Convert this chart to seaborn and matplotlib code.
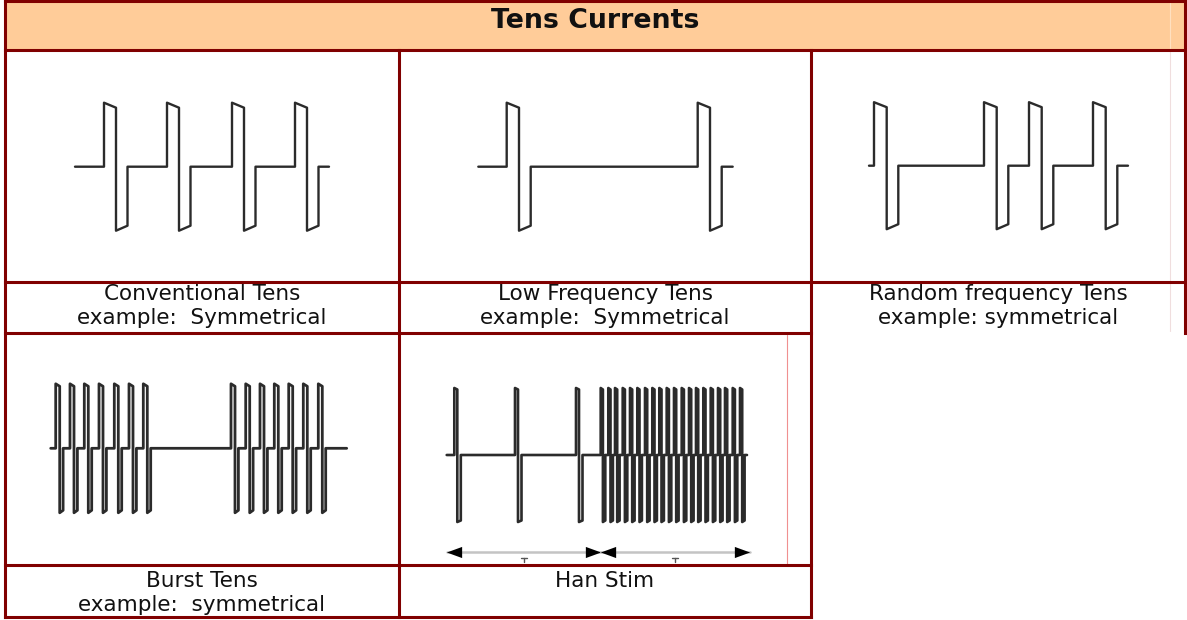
import numpy as np
import pandas as pd
import matplotlib.pyplot as plt
import seaborn as sns

# -------------------------
# Data
# (time in arbitrary units, measured from the start of each trace)
# -------------------------

conv_onsets = [29, 92, 157, 220]
conv_end = 254

low_onsets = [28.4, 219.4]
low_end = 254.4

rand_onsets = [5, 115, 160, 224]
rand_end = 259

burst_onsets = [5, 19.3, 33.6, 48.3, 63.6, 78.3, 92.6,
                180.3, 195, 209.3, 223.6, 238, 252.6, 267.6]
burst_end = 296

han_low_onsets = [7.6, 68.3, 129.3]
han_high_onsets = [154, 161.6, 168.3, 176, 183.3, 190.6, 198.3, 205.6, 212.6, 220,
                   227.3, 235, 242.3, 249.3, 256.6, 264, 271.3, 278.3, 286, 293.3]
han_end = 300.3
han_phases = [0, 154, 303]

title = "Tens Currents"
captions = [
    ("Conventional Tens", "example:  Symmetrical"),
    ("Low Frequency Tens", "example:  Symmetrical"),
    ("Random frequency Tens", "example: symmetrical"),
    ("Burst Tens", "example:  symmetrical"),
    ("Han Stim", ""),
]

# -------------------------
# Layout (pixels of the 1187x620 canvas)
# -------------------------

W, H = 1187, 620
BORDER = "#800000"
HEADER_FILL = "#FFCC99"
WAVE = "#2b2b2b"
TEXT = "#111111"


def pulse_train(onsets, t_end, w_pos, w_neg, amp, droop):
    w_pos = np.broadcast_to(w_pos, len(onsets))
    w_neg = np.broadcast_to(w_neg, len(onsets))
    t, v = [0.0], [0.0]
    for t0, wp, wn in zip(onsets, w_pos, w_neg):
        t += [t0, t0, t0 + wp, t0 + wp, t0 + wp + wn, t0 + wp + wn]
        v += [0, amp, amp - droop, -amp, -amp + droop, 0]
    t.append(t_end)
    v.append(0)
    return pd.DataFrame({"t": t, "v": v})


def cell_axes(fig, box, start_x, base_y):
    x0, y0, x1, y1 = box
    ax = fig.add_axes([x0 / W, 1 - y1 / H, (x1 - x0) / W, (y1 - y0) / H], zorder=3)
    ax.set_xlim(x0 - start_x, x1 - start_x)
    ax.set_ylim(-(y1 - base_y), base_y - y0)
    ax.axis("off")
    ax.patch.set_visible(False)
    return ax


def draw_wave(ax, df, lw=1.7):
    sns.lineplot(data=df, x="t", y="v", sort=False, estimator=None,
                 color=WAVE, lw=lw, ax=ax, legend=False)
    ax.set_xlabel("")
    ax.set_ylabel("")


sns.set_theme(style="white")
plt.rcParams["font.family"] = ["DejaVu Sans"]

fig = plt.figure(figsize=(W / 100, H / 100), dpi=100)
ax0 = fig.add_axes([0, 0, 1, 1])
ax0.set_xlim(0, W)
ax0.set_ylim(H, 0)
ax0.axis("off")

# header band
ax0.add_patch(plt.Rectangle((5, 1), 1180, 49, color=HEADER_FILL, lw=0))

# faint image-edge lines
ax0.plot([1170, 1170], [2, 49], color="#ffe0c0", lw=0.8)
ax0.plot([1170, 1170], [52, 331], color="#f0dede", lw=0.8)
ax0.plot([787, 787], [335, 564], color="#f09090", lw=0.8)

# table borders
lines = [
    ((5, 1185), (1, 1)),
    ((5, 1185), (50, 50)),
    ((5, 1185), (281.5, 281.5)),
    ((5, 811), (333, 333)),
    ((5, 811), (565, 565)),
    ((5, 811), (617, 617)),
    ((5, 5), (1, 617)),
    ((399, 399), (50, 617)),
    ((811, 811), (50, 617)),
    ((1185, 1185), (1, 333)),
]
for xs, ys in lines:
    ax0.plot(xs, ys, color=BORDER, lw=2.2, solid_capstyle="projecting")

ax0.text(595.5, 28.3, title, ha="center", va="baseline",
         fontsize=19.3, fontweight="bold", color=TEXT)

cap_pos = [
    (202, 300, 323.5),
    (605, 300, 323.5),
    (998, 300, 323.5),
    (202, 587, 611),
    (605, 587, 611),
]
for (l1, l2), (cx, b1, b2) in zip(captions, cap_pos):
    ax0.text(cx, b1, l1, ha="center", va="baseline", fontsize=15.5, color=TEXT)
    if l2:
        ax0.text(cx, b2, l2, ha="center", va="baseline", fontsize=15.5, color=TEXT)

# -------------------------
# Waveforms
# -------------------------

ax = cell_axes(fig, (5, 50, 399, 281.5), 75, 166.7)
draw_wave(ax, pulse_train(conv_onsets, conv_end, 12, 11.5, 64, 5))

ax = cell_axes(fig, (399, 50, 811, 281.5), 478.3, 166.7)
draw_wave(ax, pulse_train(low_onsets, low_end, 12.3, 11.7, 64, 5))

ax = cell_axes(fig, (811, 50, 1185, 281.5), 869, 165.7)
draw_wave(ax, pulse_train(rand_onsets, rand_end, 12.7, 11.6, 63.5, 5))

ax = cell_axes(fig, (5, 333, 399, 565), 50.7, 448.3)
draw_wave(ax, pulse_train(burst_onsets, burst_end, 4.0, 3.4, 64.5, 2.5), lw=2.0)

ax = cell_axes(fig, (399, 333, 811, 565), 446.7, 455)
han_onsets = han_low_onsets + han_high_onsets
han_wp = [3.0] * len(han_low_onsets) + [2.2] * len(han_high_onsets)
han_wn = [3.5] * len(han_low_onsets) + [2.4] * len(han_high_onsets)
draw_wave(ax, pulse_train(han_onsets, han_end, han_wp, han_wn, 67, 1.5), lw=1.9)

# Han Stim phase arrows
arrow_y = -97.3
head_l = [(1, 0), (-1, 0.73), (-1, -0.73)]
head_r = [(-1, 0), (1, 0.73), (1, -0.73)]
for a, b in zip(han_phases[:-1], han_phases[1:]):
    ax.plot([a, b], [arrow_y, arrow_y], color="#c4c4c4", lw=1.8)
    ax.plot([a + 7.5], [arrow_y], marker=head_r, ms=11, color="black", mew=0)
    ax.plot([b - 7.5], [arrow_y], marker=head_l, ms=11, color="black", mew=0)
    mid = (a + b) / 2
    ax.plot([mid - 3, mid + 3], [arrow_y - 5.4, arrow_y - 5.4], color="#555555", lw=1)
    ax.plot([mid, mid], [arrow_y - 5.4, arrow_y - 9.4], color="#555555", lw=1)

fig.savefig("out.png", dpi=100)
